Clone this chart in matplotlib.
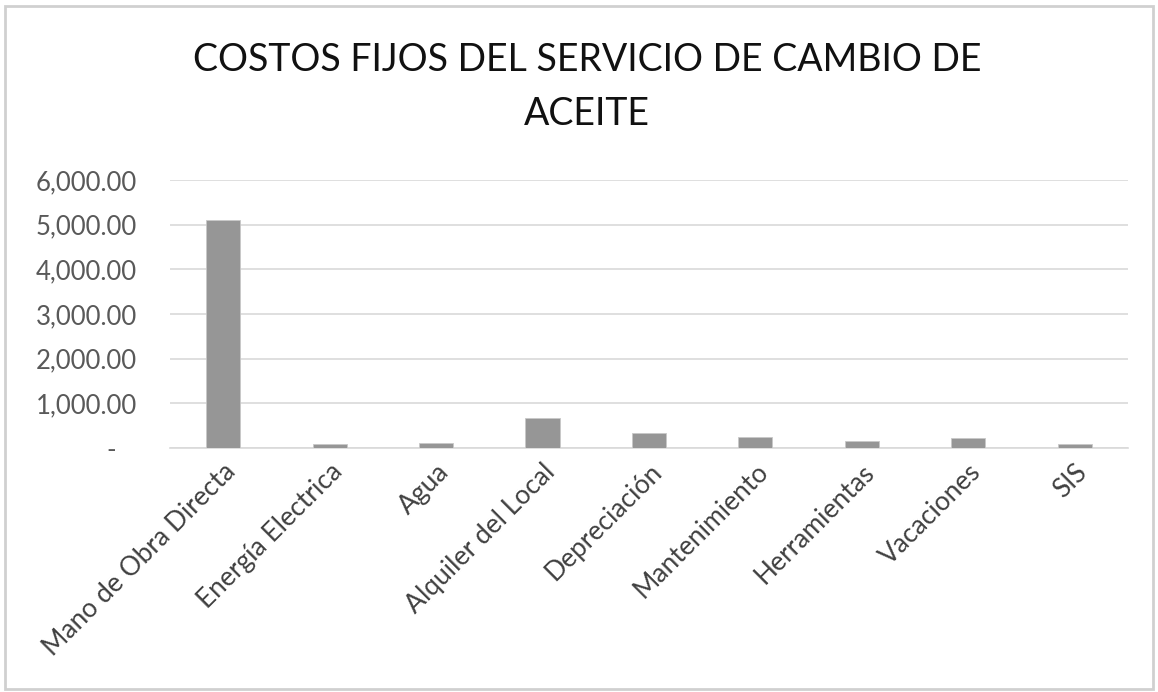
import matplotlib.pyplot as plt
from matplotlib.patches import Rectangle

categorias = ['Mano de Obra Directa', 'Energía Electrica', 'Agua', 'Alquiler del Local',
              'Depreciación', 'Mantenimiento', 'Herramientas', 'Vacaciones', 'SIS']
costos = [5100, 80, 120, 665, 330, 255, 150, 215, 80]
yticks = [0, 1000, 2000, 3000, 4000, 5000, 6000]
ylabels = ['-   ', '1,000.00', '2,000.00', '3,000.00', '4,000.00', '5,000.00', '6,000.00']
titulo = 'COSTOS FIJOS DEL SERVICIO DE CAMBIO DE\nACEITE'

plt.rcParams['font.family'] = ['Lato', 'DejaVu Sans']

fig = plt.figure(figsize=(11.58, 6.92), dpi=100)
ax = fig.add_axes([0.1468, 0.3526, 0.8272, 0.3874])

x = range(len(categorias))
ax.bar(x, costos, width=0.32, color='#969696', edgecolor='#c8c8c8', linewidth=0.6, zorder=3)
ax.set_xlim(-0.5, len(categorias) - 0.5)
ax.set_ylim(0, 6000)
ax.set_yticks(yticks)
ax.set_yticklabels(ylabels)
ax.set_xticks(list(x))
ax.set_xticklabels(categorias, rotation=45, ha='right', rotation_mode='anchor')
ax.tick_params(axis='y', length=0, pad=24, labelsize=18.5, labelcolor='#595959')
ax.tick_params(axis='x', length=0, pad=8, labelsize=19, labelcolor='#404040')
ax.grid(axis='y', color='#d9d9d9', linewidth=1.2, zorder=0)
for s in ['top', 'right', 'left']:
    ax.spines[s].set_visible(False)
ax.spines['bottom'].set_color('#d9d9d9')
ax.spines['bottom'].set_linewidth(1.2)

fig.text(0.507, 0.94, titulo, ha='center', va='top', fontsize=27, color='#111111',
         linespacing=1.65)
fig.patches.append(Rectangle((0.004, 0.004), 0.992, 0.988, transform=fig.transFigure,
                             fill=False, edgecolor='#d0d0d0', linewidth=2))

fig.savefig('out.png', dpi=100)
